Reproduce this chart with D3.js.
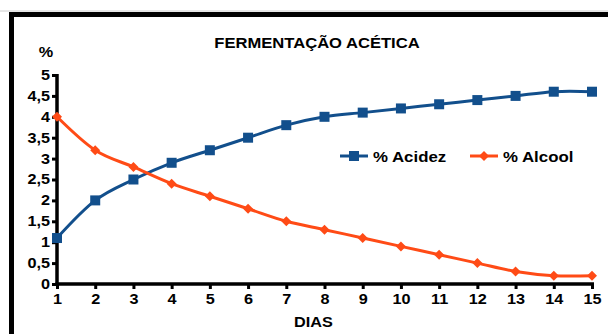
<!DOCTYPE html>
<html><head><meta charset="utf-8">
<script src="https://cdn.jsdelivr.net/npm/d3@7"></script>
<style>body{margin:0;background:#fff}svg{display:block}text{font-family:"Liberation Sans",Arial,sans-serif;font-weight:bold;fill:#000}</style>
</head><body><svg id="c" width="608" height="334"></svg>
<script>
const dias = [1,2,3,4,5,6,7,8,9,10,11,12,13,14,15];
const acidez = [1.1,2.0,2.5,2.9,3.2,3.5,3.8,4.0,4.1,4.2,4.3,4.4,4.5,4.6,4.6];
const alcool = [4.0,3.2,2.8,2.4,2.1,1.8,1.5,1.3,1.1,0.9,0.7,0.5,0.3,0.2,0.2];
const yTicks = [0,0.5,1,1.5,2,2.5,3,3.5,4,4.5,5];
const title = "FERMENTAÇÃO ACÉTICA";
const seriesNames = ["% Acidez","% Alcool"];
const blue = "#124f8c", orange = "#ff4b16";
const SX = 1.16;

const svg = d3.select("#c");
// frame
svg.append("line").attr("x1",0).attr("x2",608).attr("y1",11).attr("y2",11).attr("stroke","#ccc").attr("stroke-width",1);
svg.append("path").attr("d","M11.5,334 V14.5 H608").attr("fill","none").attr("stroke","#000").attr("stroke-width",5);

const x = d3.scaleLinear().domain([1,15]).range([57,592]);
const y = d3.scaleLinear().domain([0,5]).range([284,75]);
const fmt = d => String(d).replace(".",",");

const yAxis = svg.append("g").attr("transform","translate(57,0)")
  .call(d3.axisLeft(y).tickValues(yTicks).tickFormat(fmt).tickSize(5).tickSizeOuter(0).tickPadding(1));
const xAxis = svg.append("g").attr("transform","translate(0,284)")
  .call(d3.axisBottom(x).tickValues(dias).tickFormat(d=>d).tickSize(5).tickSizeOuter(0).tickPadding(5));
[yAxis,xAxis].forEach(g=>{
  g.select(".domain").attr("stroke","#000").attr("stroke-width",3.5);
  g.selectAll(".tick line").attr("stroke","#000").attr("stroke-width",3);
  g.selectAll(".tick text").attr("font-size",14).attr("font-family","Liberation Sans, Arial, sans-serif")
    .attr("font-weight","bold").attr("fill","#000").attr("transform",`scale(${SX},1)`);
});
yAxis.select(".domain").attr("d","M0,"+(y(5)-1)+"V"+(y(0)+1.5));
xAxis.select(".domain").attr("d","M"+(x(1)-1.5)+",0H"+(x(15)+2));

function label(tx,ty,t,size,anchor){
  return svg.append("text").attr("transform",`translate(${tx},${ty}) scale(${SX},1)`)
    .attr("text-anchor",anchor||"middle").attr("font-size",size).text(t);
}
label(317,48,title,14.3);
label(46,57,"%",14);
label(313.5,327,"DIAS",14);

const line = d3.line().curve(d3.curveCatmullRom.alpha(0)).x((d,i)=>x(dias[i])).y(d=>y(d));
function series(vals,color,shape){
  svg.append("path").attr("d",line(vals)).attr("fill","none").attr("stroke",color).attr("stroke-width",3);
  const g = svg.append("g");
  vals.forEach((v,i)=>marker(g,x(dias[i]),y(v),color,shape));
}
function marker(g,cx,cy,color,shape){
  if(shape==="square") g.append("rect").attr("x",cx-5).attr("y",cy-5).attr("width",10).attr("height",10).attr("fill",color);
  else g.append("path").attr("d",`M${cx},${cy-5}L${cx+5},${cy}L${cx},${cy+5}L${cx-5},${cy}Z`).attr("fill",color);
}
series(acidez,blue,"square");
series(alcool,orange,"diamond");

// legend
const lg = svg.append("g");
[[340,blue,"square",seriesNames[0]],[470,orange,"diamond",seriesNames[1]]].forEach(([lx,c,s,t])=>{
  lg.append("line").attr("x1",lx).attr("x2",lx+28).attr("y1",156).attr("y2",156).attr("stroke",c).attr("stroke-width",3);
  marker(lg,lx+14,156,c,s);
  label(lx+33,161.5,t,14.5,"start");
});
</script></body></html>
